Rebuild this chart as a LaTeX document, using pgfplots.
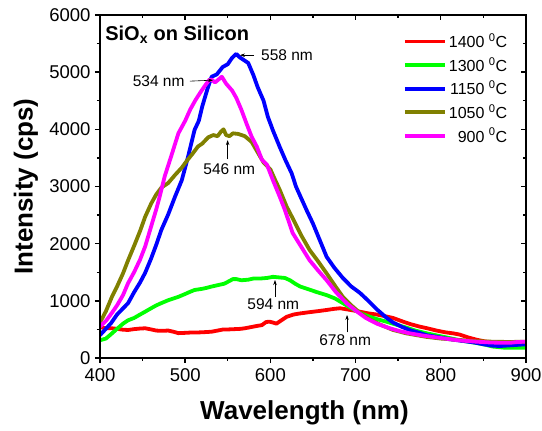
\documentclass[border=0pt]{standalone}
\usepackage{fontspec}
\setmainfont{Liberation Sans}
\usepackage{pgfplots}
\pgfplotsset{compat=1.18}
\usetikzlibrary{arrows.meta}

\definecolor{cRed}{RGB}{255,0,0}
\definecolor{cGreen}{RGB}{0,255,0}
\definecolor{cBlue}{RGB}{0,0,255}
\definecolor{cOlive}{RGB}{128,128,0}
\definecolor{cMag}{RGB}{255,0,255}

\pgfplotsset{
  frame/.style={
    width=426pt, height=343pt, scale only axis,
    xmin=400, xmax=900, ymin=0, ymax=6000,
    xtick={400,500,...,900}, ytick={0,1000,...,6000},
    minor x tick num=1, minor y tick num=1,
    axis line style={line width=1.8pt},
    major tick length=5pt, minor tick length=3pt,
    every tick/.style={line width=1.4pt, black},
    scaled ticks=false,
  },
}
\tikzset{
  ann/.style={font=\fontsize{15.5}{17}\selectfont, inner sep=0pt},
  arr/.style={-{Stealth[length=5pt,width=3.5pt]}, line width=0.6pt},
}

\begin{document}
\begin{tikzpicture}
\begin{axis}[frame,
  xtick pos=bottom, ytick pos=left, tick align=outside,
  /pgf/number format/assume math mode=true,
  /pgf/number format/set thousands separator={},
  ticklabel style={font=\fontsize{18.5}{20}\selectfont},
  xticklabel style={yshift=-2pt},
  yticklabel style={xshift=-1pt},
  xlabel={\textbf{Wavelength (nm)}},
  ylabel={\textbf{Intensity (cps)}},
  label style={font=\fontsize{26}{28}\selectfont},
  xlabel style={at={(axis description cs:0.48,-0.178)}, anchor=base},
  ylabel style={at={(axis description cs:-0.174,0.5)}, anchor=center},
  legend style={at={(axis description cs:0.711,0.952)}, anchor=north west,
    draw=none, fill=none, font=\fontsize{16}{18}\selectfont, row sep=4pt,
    inner sep=0pt},
  legend cell align=right,
  legend image code/.code={\draw[#1] (0pt,0pt) -- (40pt,0pt);},
  every axis plot/.append style={line width=3.8pt, line join=round},
  clip=true,
]
% 1400 C
\addplot[cRed] coordinates {
(400,540) (407,520) (414,520) (420,510) (427,495) (433,490) (440,505) (447,515)
(453,520) (460,500) (466,480) (472,475) (480,480) (486,460) (492,435) (500,440)
(506,445) (512,445) (520,450) (526,455) (531,460) (538,480) (545,500) (551,500)
(558,505) (565,510) (570,520) (577,540) (584,560) (590,575) (595,630) (599,635)
(603,620) (607,600) (613,660) (619,720) (627,760) (635,780) (645,800) (656,820)
(666,840) (675,860) (682,870) (690,850) (698,830) (705,810) (715,780) (725,760)
(735,730) (744,700) (755,640) (765,590) (775,550) (784,520) (795,480) (805,450)
(815,430) (822,410) (832,360) (842,320) (852,290) (862,270) (875,255) (890,255)
(900,260)};
\addlegendentry{1400 \textsuperscript{0}C}
% 1300 C
\addplot[cGreen] coordinates {
(400,310) (407,340) (414,430) (420,510) (427,600) (433,660) (440,700) (447,760)
(453,810) (460,870) (466,920) (472,960) (480,1010) (486,1040) (492,1070) (500,1120)
(506,1160) (511,1190) (520,1210) (526,1230) (531,1250) (540,1280) (546,1300)
(551,1340) (556,1380) (560,1380) (566,1360) (574,1370) (580,1390) (588,1390)
(596,1400) (603,1420) (610,1410) (617,1400) (623,1360) (629,1300) (635,1250)
(645,1200) (655,1150) (666,1100) (676,1040) (685,960) (695,870) (705,790)
(715,730) (725,680) (735,640) (744,600) (760,530) (770,480) (784,430) (800,380)
(810,350) (822,310) (835,280) (850,240) (861,200) (875,180) (890,180) (900,180)};
\addlegendentry{1300 \textsuperscript{0}C}
% 1150 C
\addplot[cBlue] coordinates {
(400,400) (405,480) (413,610) (420,760) (433,960) (440,1150) (447,1320) (453,1490)
(460,1740) (466,1980) (472,2240) (480,2510) (488,2820) (496,3110) (503,3500)
(511,3990) (516,4150) (520,4400) (526,4700) (531,4920) (537,4960) (544,5090)
(550,5140) (555,5250) (560,5320) (564,5260) (567,5230) (574,5160) (580,4950)
(585,4740) (592,4500) (597,4220) (603,3980) (611,3690) (618,3450) (625,3230)
(630,3000) (636,2800) (643,2570) (650,2350) (658,2060) (666,1770) (675,1580)
(685,1400) (695,1250) (705,1140) (715,1000) (725,850) (735,720) (744,620)
(755,540) (765,480) (775,440) (783,400) (795,370) (810,330) (825,300) (840,270)
(850,240) (861,215) (870,210) (880,220) (890,230) (900,240)};
\addlegendentry{1150 \textsuperscript{0}C}
% 1050 C
\addplot[cOlive] coordinates {
(400,620) (407,820) (414,1070) (420,1250) (427,1480) (433,1710) (440,1960)
(447,2220) (453,2470) (460,2700) (466,2860) (472,2980) (480,3060) (488,3200)
(496,3330) (503,3470) (509,3580) (515,3700) (520,3750) (527,3860) (533,3900)
(538,3880) (542,3960) (545,4000) (548,3900) (552,3880) (556,3930) (562,3920)
(570,3880) (578,3780) (585,3600) (592,3420) (600,3300) (606,3100) (611,2940)
(619,2650) (627,2420) (636,2150) (646,1890) (656,1690) (666,1480) (676,1260)
(685,1070) (695,920) (705,790) (716,680) (728,590) (744,490) (760,430) (783,370)
(800,340) (822,315) (840,295) (861,285) (880,280) (900,285)};
\addlegendentry{1050 \textsuperscript{0}C}
% 900 C
\addplot[cMag] coordinates {
(400,550) (407,650) (414,790) (420,920) (427,1100) (433,1310) (440,1500)
(447,1720) (453,1950) (460,2300) (466,2600) (470,2820) (476,3180) (484,3550)
(492,3930) (500,4150) (506,4350) (512,4510) (518,4650) (524,4780) (528,4860)
(531,4870) (535,4820) (539,4870) (543,4920) (548,4800) (555,4680) (560,4550)
(566,4340) (572,4100) (578,3870) (584,3700) (590,3470) (596,3380) (603,3110)
(611,2820) (617,2590) (626,2190) (636,1950) (646,1710) (656,1530) (666,1360)
(677,1150) (690,950) (700,830) (712,700) (725,600) (740,520) (752,470) (764,430)
(780,390) (795,360) (805,340) (820,310) (842,285) (860,270) (881,265) (890,280)
(900,285)};
\addlegendentry{900 \textsuperscript{0}C}

% annotations
\node[anchor=base west, font=\fontsize{20}{22}\selectfont\bfseries, inner sep=0pt]
  at (axis description cs:0.012,0.927) {SiO\textsubscript{x} on Silicon};
\node[ann] at (axis cs:619.5,5297) {558 nm};
\draw[arr] (axis cs:580.8,5297) -- (axis cs:564.3,5297);
\node[ann] at (axis cs:468.9,4843) {534 nm};
\draw[arr] (axis cs:505.6,4843) -- (axis cs:532.6,4860);
\node[ann] at (axis cs:551.7,3299) {546 nm};
\draw[arr] (axis cs:549.8,3474) -- (axis cs:549.8,3811);
\node[ann] at (axis cs:603.4,944) {594 nm};
\draw[arr] (axis cs:605.4,1072) -- (axis cs:605.4,1364);
\node[ann] at (axis cs:687.7,315) {678 nm};
\draw[arr] (axis cs:690,449) -- (axis cs:690,752);
\end{axis}
\begin{axis}[frame,
  xtick pos=top, ytick pos=right, tick align=inside,
  xticklabels={}, yticklabels={},
]
\end{axis}
\pgfresetboundingbox
\useasboundingbox (-100pt,-73pt) rectangle (442pt,358pt);
\end{tikzpicture}
\end{document}
